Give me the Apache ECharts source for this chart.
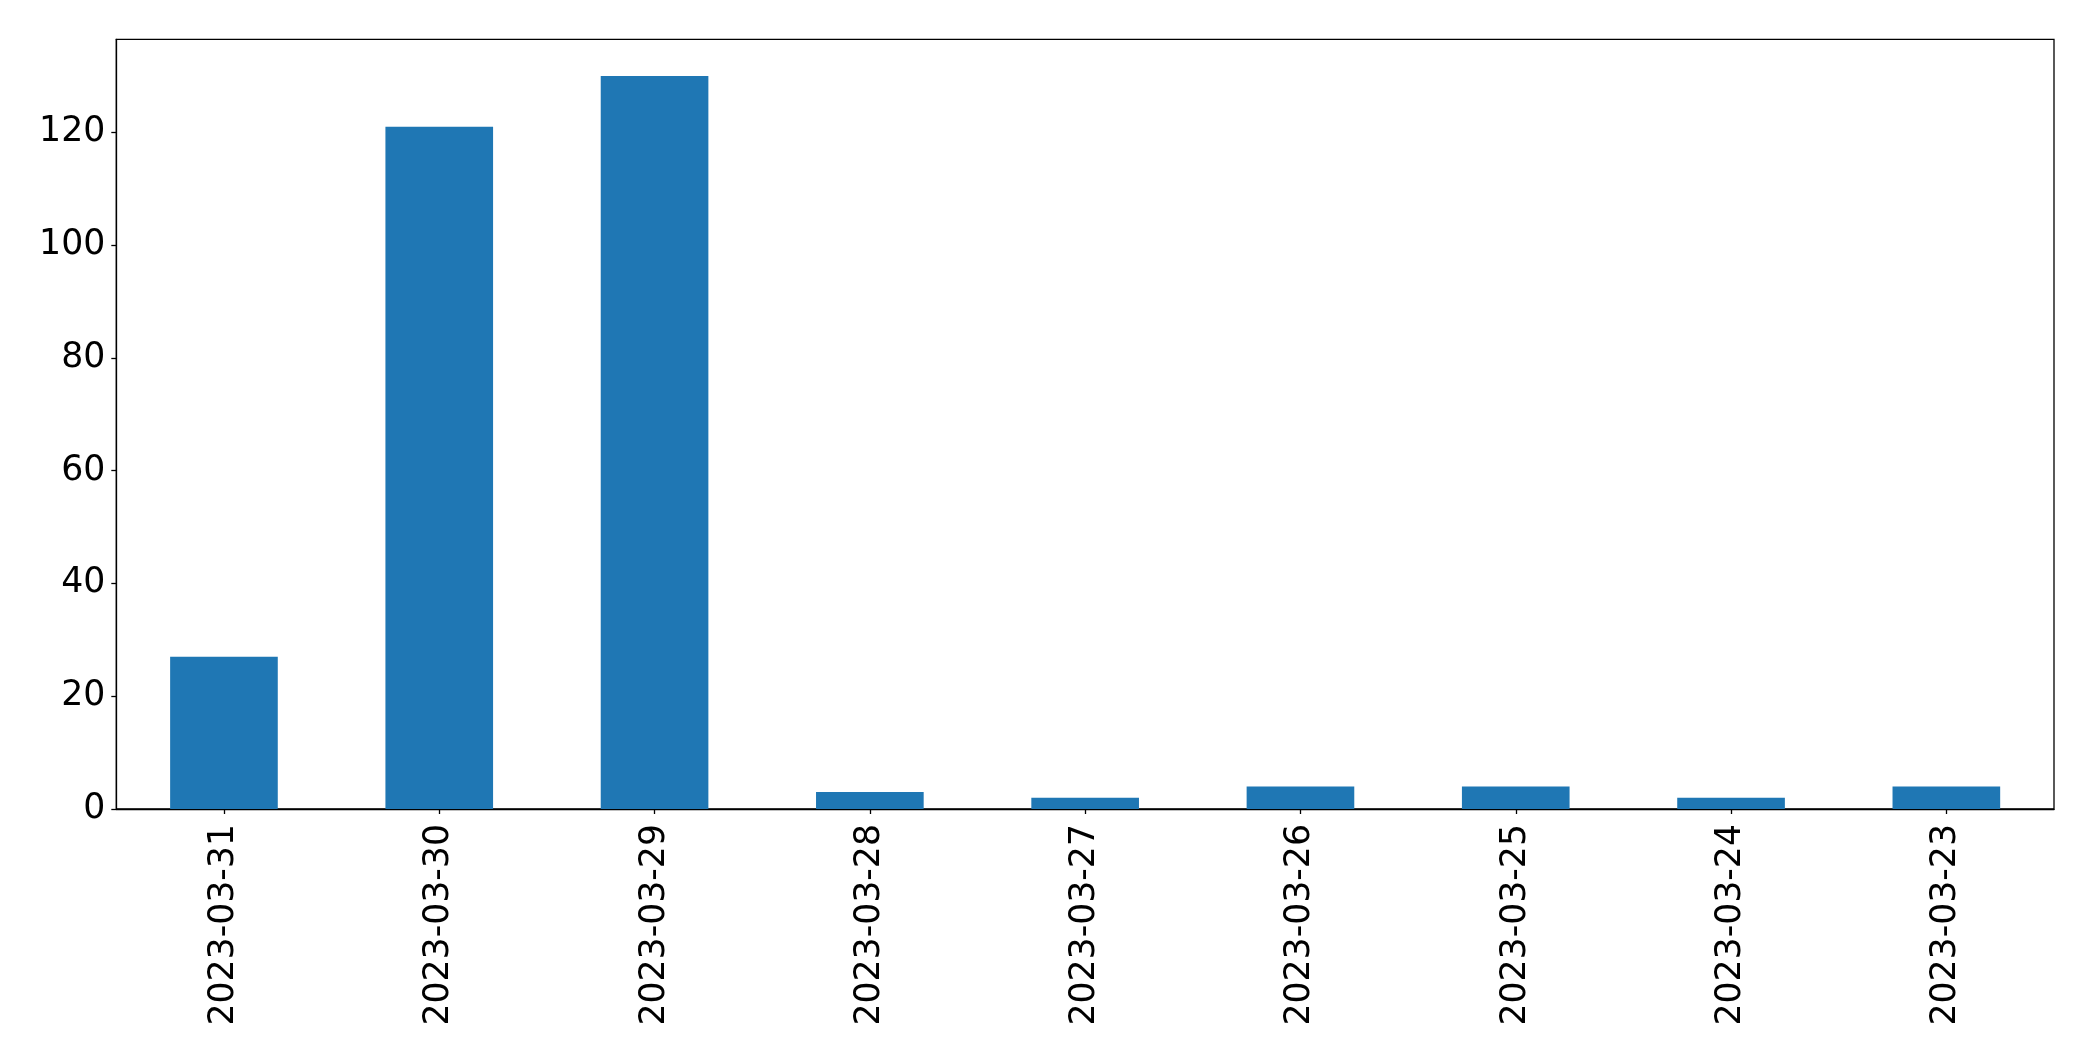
<!DOCTYPE html>
<html>
<head>
<meta charset="utf-8">
<script src="https://cdn.jsdelivr.net/npm/echarts@6/dist/echarts.min.js"></script>
<style>
html,body{margin:0;padding:0;background:#fff;}
#chart{width:2093px;height:1061px;}
</style>
</head>
<body>
<div id="chart"></div>
<script>
const categories = ["2023-03-31","2023-03-30","2023-03-29","2023-03-28","2023-03-27","2023-03-26","2023-03-25","2023-03-24","2023-03-23"];
const values = [27, 121, 130, 3, 2, 4, 4, 2, 4];
const yMin = 0;
const yMax = 136.5;
const yInterval = 20;

const chart = echarts.init(document.getElementById('chart'), null, {renderer: 'canvas'});
const font = 'DejaVu Sans';
chart.setOption({
  animation: false,
  backgroundColor: '#ffffff',
  grid: {left: 116.3, right: 39, top: 39.3, bottom: 252, show: true, borderColor: '#000', borderWidth: 1.3, containLabel: false},
  xAxis: {
    type: 'category',
    data: categories,
    axisLine: {show: true, lineStyle: {color: '#000', width: 1.3}},
    axisTick: {show: true, alignWithLabel: true, length: 5, lineStyle: {color: '#000', width: 1.3}},
    axisLabel: {interval: 0, rotate: 90, margin: 15, color: '#000', fontSize: 34.7, fontFamily: font},
    splitLine: {show: false}
  },
  yAxis: {
    type: 'value',
    min: yMin, max: yMax, interval: yInterval,
    axisLine: {show: true, lineStyle: {color: '#000', width: 1.3}},
    axisTick: {show: true, length: 5, lineStyle: {color: '#000', width: 1.3}},
    axisLabel: {color: '#000', fontSize: 34.7, fontFamily: font, margin: 11, showMaxLabel: false, padding: [7, 0, 0, 0]},
    splitLine: {show: false}
  },
  series: [{
    type: 'bar',
    data: values,
    barWidth: '50%',
    itemStyle: {color: '#1f77b4'}
  }]
});
</script>
</body>
</html>
